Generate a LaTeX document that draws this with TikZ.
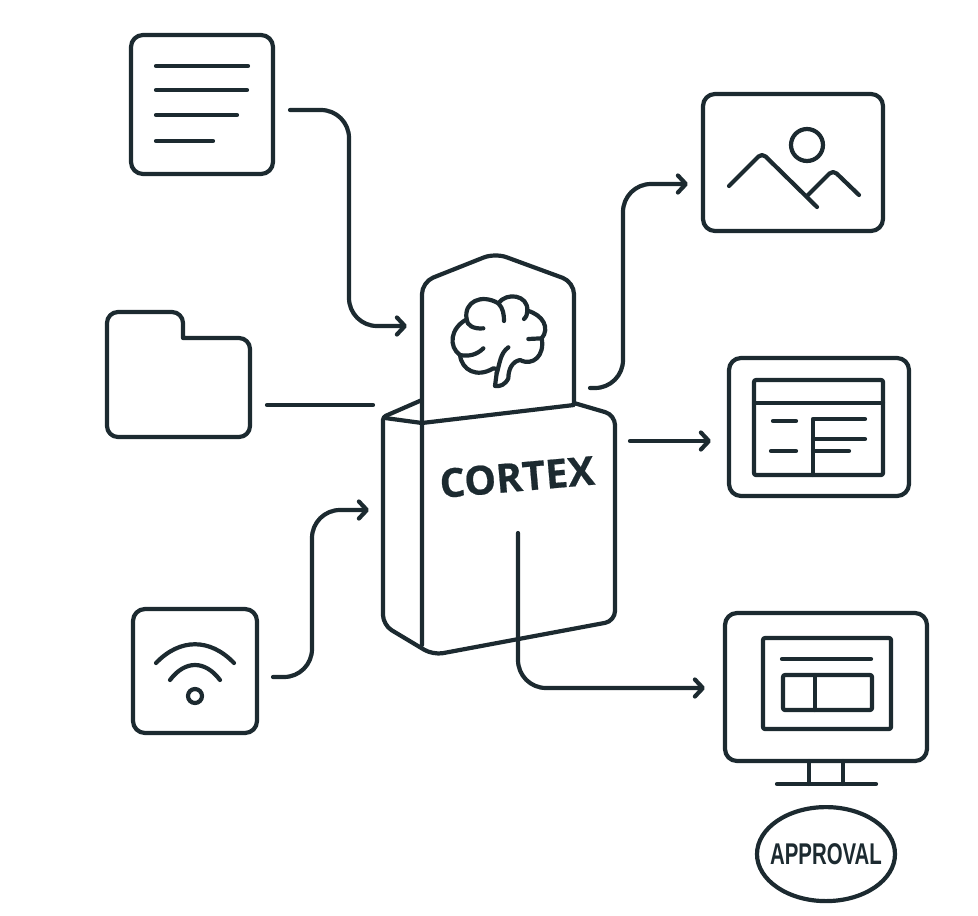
\documentclass[tikz,border=0pt]{standalone}
\usepackage{fontspec}
\newfontfamily\cortexfont[BoldFeatures={FakeBold=0.5}]{Open Sans}
\newfontfamily\approvalfont[FakeStretch=0.68]{Liberation Sans}
\usetikzlibrary{positioning,calc,arrows.meta,shapes.geometric}
\definecolor{ink}{HTML}{1C2A30}

\begin{document}
\begin{tikzpicture}[x=1pt,y=-1pt,>={Straight Barb[length=8pt,width=17pt,round]},
                    line width=4.2pt, color=ink, line cap=round, line join=round]
  \tikzstyle{iconbox}=[draw, rectangle, rounded corners=12pt, inner sep=0pt, outer sep=0pt]
  \tikzstyle{hidden box}=[rectangle, inner sep=0pt, outer sep=0pt]
  \tikzstyle{link}=[->, rounded corners=28pt]
  \useasboundingbox (0,0) rectangle (978,916);

  \node[iconbox, minimum width=142pt, minimum height=139pt] (doc)     at (202,104.5) {};
  \node[hidden box, minimum width=143pt, minimum height=125pt] (folder) at (178.5,374.5) {};
  \node[iconbox, minimum width=124pt, minimum height=124pt] (wifi)    at (195,671) {};
  \node[iconbox, minimum width=180pt, minimum height=137pt] (image)   at (793,162.5) {};
  \node[iconbox, minimum width=180pt, minimum height=138pt] (table)   at (819,427) {};
  \node[iconbox, minimum width=202pt, minimum height=148pt] (monitor) at (826,687) {};
  \node[hidden box, minimum width=152pt, minimum height=169pt] (head) at (498,338.5) {};
  \node[hidden box, minimum width=232pt, minimum height=238pt] (body) at (499,536) {};
  \coordinate (outlet) at (518,533);
  \coordinate (docbend) at (349,218);
  \coordinate (wifibend) at (312,590);
  \coordinate (imagebend) at (623,280);
  \coordinate (monitorbend) at (518,600);

  % document lines
  \draw (156,66) -- (248,66) (156,90) -- (247,90) (156,115) -- (237,115) (156,141) -- (213,141);
  % folder
  \draw[rounded corners=11pt] (107,312) -- (183,312) [sharp corners] -- (183,338)
        [rounded corners=11pt] -- (250,338) -- (250,437) -- (107,437) -- cycle;
  % wifi
  \draw (156,663) .. controls (180,638) and (210,638) .. (234,663);
  \draw (170,680) .. controls (185,660) and (205,660) .. (220,680);
  \draw (195,696) circle (7);

  % cortex head and body
  \draw[rounded corners=12pt] (422,423) -- (422,282) -- (495,253) -- (574,282) [sharp corners] -- (574,405) -- cycle;
  \draw[rounded corners=10pt] (574,403) -- (615,415) -- (615,621) -- (433,655) -- (383,625)
        [rounded corners=3pt] -- (383,417) -- (422,400);
  \draw (385,418) -- (422,423) -- (422,645);
  % brain
  \begin{scope}[shift={(370,240)},scale=1/3]
    \draw (375,438) -- (380,400) .. controls (385,385) and (378,385) .. (370,385)
          .. controls (320,415) and (275,390) .. (270,345)
          .. controls (235,320) and (240,265) .. (290,238)
          .. controls (280,185) and (335,160) .. (385,190)
          .. controls (410,155) and (475,165) .. (472,212)
          .. controls (520,225) and (540,265) .. (515,295)
          .. controls (525,345) and (490,380) .. (450,360)
          .. controls (425,365) and (415,390) .. (415,415)
          .. controls (405,435) and (390,440) .. (375,438) -- cycle;
    \draw (340,265) .. controls (310,268) and (290,255) .. (290,238);
    \draw (340,325) .. controls (320,345) and (295,350) .. (270,345);
    \draw (385,190) .. controls (400,205) and (402,225) .. (402,243);
    \draw (462,237) .. controls (470,230) and (472,220) .. (472,212);
    \draw (475,297) -- (515,295);
    \draw (415,322) .. controls (390,340) and (390,370) .. (380,400);
  \end{scope}
  \node[hidden box, rotate=5, font=\cortexfont\bfseries\fontsize{40}{40}\selectfont] (cortex) at (517,477) {CORTEX};

  % image
  \draw (807,145) circle (16);
  \draw[rounded corners=5pt] (729,186) -- (762,153) -- (817,207);
  \draw[rounded corners=5pt] (808,195) -- (833,170) -- (859,195);
  % table
  \draw[rounded corners=2pt] (754,380) rectangle (883,475);
  \draw (754,403) -- (883,403) (813,475) -- (813,419) -- (865,419) (813,439) -- (865,439) (813,451) -- (849,451);
  \draw (773,421) -- (796,421) (771,451) -- (796,451);
  % monitor
  \draw[rounded corners=2pt] (763,638) rectangle (891,729);
  \draw (782,659) -- (871,659);
  \draw[rounded corners=2pt] (783,675) rectangle (872,710);
  \draw (815,675) -- (815,710);
  \draw (809,761) -- (809,784) (843,761) -- (843,784) (777,784) -- (876,784);
  \node[draw, ellipse, inner sep=0pt, minimum width=138pt, minimum height=94pt,
        font=\approvalfont\bfseries\fontsize{30}{30}\selectfont] (approval) [below=44pt of monitor.south] {\makebox[0pt]{APPROVAL}};

  % connectors
  \draw[link, shorten <=17pt, shorten >=15pt] (doc.east |- 0,110) -| (docbend) |- (head.west |- 0,326);
  \draw[shorten <=17pt, shorten >=10pt] (folder.east |- 0,405) -- (body.west |- 0,405);
  \draw[link, shorten <=16pt, shorten >=14pt] (wifi.east |- 0,677) -| (wifibend) |- (body.west |- 0,510);
  \draw[link, shorten <=16pt, shorten >=15pt] (head.east |- 0,388) -| (imagebend) |- (image.west |- 0,184);
  \draw[link, shorten <=15pt, shorten >=18pt] (body.east |- 0,441) -- (table.west |- 0,441);
  \draw[link, shorten >=20pt] (outlet) -- (monitorbend) |- (monitor.west |- 0,688);
\end{tikzpicture}
\end{document}
